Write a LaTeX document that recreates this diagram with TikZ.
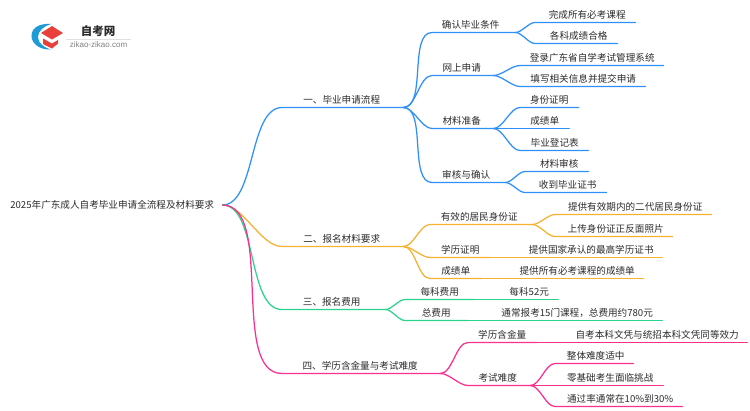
\documentclass[tikz,border=0pt]{standalone}
\usepackage{fontspec}
\setmainfont{Noto Sans CJK SC}
\newfontfamily\latinlogo{Liberation Sans}
\definecolor{cblue}{HTML}{2E90FA}
\definecolor{corange}{HTML}{F7B030}
\definecolor{cgreen}{HTML}{2BD48C}
\definecolor{cpink}{HTML}{FA2F8E}
\definecolor{ctext}{HTML}{2B2B2B}
\definecolor{logoblue}{HTML}{1E9BD7}
\definecolor{logored}{HTML}{E8403A}
\newcommand\nudge[1]{\hspace*{#1pt}}
\tikzset{
  lab/.style={anchor=south west,inner sep=0pt,minimum height=15.5pt,font=\fontsize{9.6pt}{11pt}\selectfont,text=ctext,align=center},
  conn/.style={line width=1.25pt,line cap=round,line join=round},
  sbranch/.style={out=0,in=180,looseness=0.75},
}
\begin{document}
\begin{tikzpicture}[x=1pt,y=-1pt]
\useasboundingbox (0,0) rectangle (750,410);
% logo
\fill[logoblue] (51,24) .. controls (38,23) and (31,29) .. (31.5,36.5) .. controls (32,44) and (40,50) .. (51,49.5) .. controls (43,47) and (38,43) .. (38,37) .. controls (38,31) and (44,26) .. (51,24) -- cycle;
\fill[logored] (41,33) -- (52,26) -- (63,33) -- (52,39.5) -- cycle;
\fill[logored] (43,38.5) -- (52,43.5) -- (58,40) -- (58,43.5) -- (52,48.5) -- (43,44) -- cycle;
\node[inner sep=0pt,font=\fontsize{11.5pt}{12pt}\selectfont\bfseries,text=ctext] (logot) at (98,31) {自考网};
\node[inner sep=0pt,font=\fontsize{8pt}{9pt}\latinlogo,text=gray] (logou) at (98.5,45) {zikao-zikao.com};
\draw[black!12,line width=0.6pt] (66,39) -- (131,39);
\begin{scope}[yshift=-0.5pt]
% root
\node[lab,anchor=west,minimum width=220pt] (root) at (2,204.5) {2025年广东成人自考毕业申请全流程及材料要求};
% level 1
\node[lab,minimum width=121pt] (b1) at (282,107) {\nudge{-2}一、毕业申请流程};
\node[lab,minimum width=121pt] (b2) at (282,246) {\nudge{-2}二、报名材料要求};
\node[lab,minimum width=103pt] (b3) at (282,309) {\nudge{-4}三、报名费用};
\node[lab,minimum width=158pt] (b4) at (282,373) {\nudge{-2}四、学历含金量与考试难度};
% level 2
\node[lab,minimum width=83pt] (c1) at (432,32) {\nudge{-6}确认毕业条件};
\node[lab,minimum width=61pt] (c2) at (432,75) {\nudge{-2}网上申请};
\node[lab,minimum width=61pt] (c3) at (432,128) {\nudge{-2}材料准备};
\node[lab,minimum width=73pt] (c4) at (432,182) {\nudge{-5}审核与确认};
\node[lab,minimum width=102pt] (d1) at (430,224) {\nudge{-4}有效的居民身份证};
\node[lab,minimum width=60pt] (d2) at (430,257) {学历证明};
\node[lab,minimum width=51pt] (d3) at (430,278) {成绩单};
\node[lab,minimum width=69pt] (e1) at (405,299) {每科费用};
\node[lab,minimum width=62pt] (e2) at (405,320) {总费用};
\node[lab,minimum width=68pt] (f1) at (468,342) {学历含金量};
\node[lab,minimum width=62pt] (f2) at (468,385) {\nudge{-3}考试难度};
% leaves
\node[lab,minimum width=100pt] (c11) at (535,22) {\nudge{4}完成所有必考课程};
\node[lab,minimum width=82pt] (c12) at (535,43) {\nudge{5}各科成绩合格};
\node[lab,minimum width=143pt] (c21) at (520,65) {\nudge{1}登录广东省自学考试管理系统};
\node[lab,minimum width=125pt] (c22) at (520,86) {\nudge{1}填写相关信息并提交申请};
\node[lab,minimum width=58pt] (c31) at (520,107) {身份证明};
\node[lab,minimum width=49pt] (c32) at (520,128) {成绩单};
\node[lab,minimum width=68pt] (c33) at (520,150) {\nudge{1}毕业登记表};
\node[lab,minimum width=63pt] (c41) at (525,171) {\nudge{5}材料审核};
\node[lab,minimum width=81pt] (c42) at (525,192) {\nudge{4}收到毕业证书};
\node[lab,minimum width=156pt] (d11) at (555,214) {\nudge{4}提供有效期内的二代居民身份证};
\node[lab,minimum width=117pt] (d12) at (555,236) {\nudge{4}上传身份证正反面照片};
\node[lab,minimum width=142pt] (d21) at (520,257) {提供国家承认的最高学历证书};
\node[lab,minimum width=132pt] (d31) at (511,278) {提供所有必考课程的成绩单};
\node[lab,minimum width=58pt] (e11) at (500,299) {每科52元};
\node[lab,minimum width=170pt] (e21) at (492,320) {通常报考15门课程，总费用约780元};
\node[lab,minimum width=180pt] (f11) at (567,342) {自考本科文凭与统招本科文凭同等效力};
\node[lab,minimum width=78pt] (f21) at (555,363) {\nudge{3}整体难度适中};
\node[lab,minimum width=108pt] (f22) at (555,385) {\nudge{2}零基础考生面临挑战};
\node[lab,minimum width=127pt] (f23) at (555,406) {\nudge{3}通过率通常在10\%到30\%};
% connectors
\begin{scope}[conn,cblue]
\draw (root.east) to[sbranch] (b1.south west) -- (b1.south east);
\foreach \c in {c1,c2,c3,c4}{\draw (b1.south east) to[sbranch] (\c.south west) -- (\c.south east);}
\foreach \c in {c11,c12}{\draw (c1.south east) to[sbranch] (\c.south west) -- (\c.south east);}
\foreach \c in {c21,c22}{\draw (c2.south east) to[sbranch] (\c.south west) -- (\c.south east);}
\foreach \c in {c31,c32,c33}{\draw (c3.south east) to[sbranch] (\c.south west) -- (\c.south east);}
\foreach \c in {c41,c42}{\draw (c4.south east) to[sbranch] (\c.south west) -- (\c.south east);}
\end{scope}
\begin{scope}[conn,corange]
\draw (root.east) to[sbranch] (b2.south west) -- (b2.south east);
\foreach \c in {d1,d2,d3}{\draw (b2.south east) to[sbranch] (\c.south west) -- (\c.south east);}
\foreach \c in {d11,d12}{\draw (d1.south east) to[sbranch] (\c.south west) -- (\c.south east);}
\draw (d2.south east) -- (d21.south west) -- (d21.south east);
\draw (d3.south east) -- (d31.south west) -- (d31.south east);
\end{scope}
\begin{scope}[conn,cgreen]
\draw (root.east) to[sbranch] (b3.south west) -- (b3.south east);
\foreach \c in {e1,e2}{\draw (b3.south east) to[sbranch] (\c.south west) -- (\c.south east);}
\draw (e1.south east) -- (e11.south west) -- (e11.south east);
\draw (e2.south east) -- (e21.south west) -- (e21.south east);
\end{scope}
\begin{scope}[conn,cpink]
\draw (root.east) to[sbranch] (b4.south west) -- (b4.south east);
\foreach \c in {f1,f2}{\draw (b4.south east) to[sbranch] (\c.south west) -- (\c.south east);}
\draw (f1.south east) -- (f11.south west) -- (f11.south east);
\foreach \c in {f21,f22,f23}{\draw (f2.south east) to[sbranch] (\c.south west) -- (\c.south east);}
\end{scope}
\end{scope}
\end{tikzpicture}
\end{document}
